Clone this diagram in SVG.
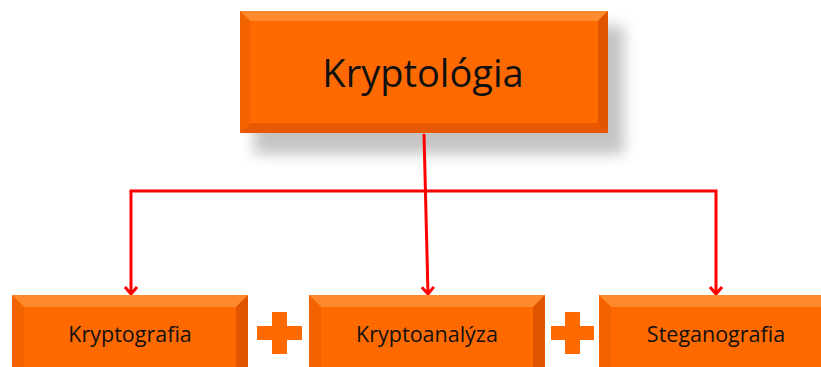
<svg xmlns="http://www.w3.org/2000/svg" width="821" height="367" viewBox="0 0 821 367">
<style>
.face{fill:#FF6A00}
.bt{fill:#FF8A2E}
.bb{fill:#E85800}
.bl{fill:#F26200}
.br{fill:#E05500}
.lbl{font-family:"Open Sans","Liberation Sans",sans-serif;fill:#111;text-anchor:middle}
.conn{stroke:#FF0000;stroke-width:3;fill:none}
.plus{fill:#FF6A00}
</style>
<defs>
<filter id="sh" x="-20%" y="-20%" width="150%" height="160%">
<feGaussianBlur stdDeviation="7"/>
</filter>
<marker id="ah" markerWidth="14" markerHeight="14" refX="11" refY="7" orient="auto" markerUnits="userSpaceOnUse" viewBox="0 0 14 14">
<path d="M4,1 L11,7 L4,13" fill="none" stroke="#FF0000" stroke-width="3"/>
</marker>
</defs>
<g id="kryptologia">
<rect x="254" y="26" width="370" height="128" fill="#888" opacity="0.5" filter="url(#sh)"/>
<rect class="face" x="240" y="11" width="368" height="122"/>
<polygon class="bt" points="240,11 608,11 598,21 250,21"/>
<polygon class="bb" points="240,133 608,133 598,123 250,123"/>
<polygon class="bl" points="240,11 250,21 250,123 240,133"/>
<polygon class="br" points="608,11 598,21 598,123 608,133"/>
<rect class="face" x="250" y="21" width="348" height="102"/>
<text class="lbl" x="423" y="87" font-size="38">Kryptológia</text>
</g>
<g id="connectors">
<path class="conn" d="M424,134 L428,294" marker-end="url(#ah)"/>
<path class="conn" d="M131,191 L131,294" marker-end="url(#ah)"/>
<path class="conn" d="M129.5,191 L716,191 L716,294" marker-end="url(#ah)"/>
</g>
<g id="kryptografia">
<rect class="face" x="12" y="295" width="236" height="80"/>
<polygon class="bt" points="12,295 248,295 236,307 24,307"/>
<polygon class="bl" points="12,295 24,307 24,367 12,367"/>
<polygon class="br" points="248,295 236,307 236,367 248,367"/>
<rect class="face" x="24" y="307" width="212" height="60"/>
<text class="lbl" x="130" y="342" font-size="21.5">Kryptografia</text>
</g>
<g id="kryptoanalyza">
<rect class="face" x="309" y="295" width="236" height="80"/>
<polygon class="bt" points="309,295 545,295 533,307 321,307"/>
<polygon class="bl" points="309,295 321,307 321,367 309,367"/>
<polygon class="br" points="545,295 533,307 533,367 545,367"/>
<rect class="face" x="321" y="307" width="212" height="60"/>
<text class="lbl" x="427" y="342" font-size="21.5">Kryptoanalýza</text>
</g>
<g id="steganografia">
<rect class="face" x="599" y="295" width="236" height="80"/>
<polygon class="bt" points="599,295 835,295 823,307 611,307"/>
<polygon class="bl" points="599,295 611,307 611,367 599,367"/>
<rect class="face" x="611" y="307" width="212" height="60"/>
<text class="lbl" x="716" y="342" font-size="21.5">Steganografia</text>
</g>
<g id="plus1">
<path class="plus" d="M272,312 H287 V326 H302 V340 H287 V354 H272 V340 H257 V326 H272 Z"/>
</g>
<g id="plus2">
<path class="plus" d="M565,312 H580 V326 H594 V340 H580 V354 H565 V340 H551 V326 H565 Z"/>
</g>
</svg>
